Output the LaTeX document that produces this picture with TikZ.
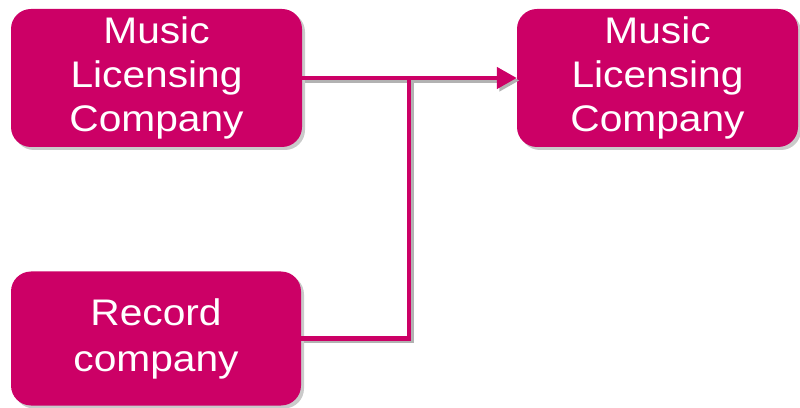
\documentclass[tikz,border=0pt]{standalone}
\usepackage{fontspec}
\setmainfont{Liberation Sans}[FakeStretch = 1.1]
\usepackage{tikz}
\usetikzlibrary{arrows.meta}
\usetikzlibrary{shadows}
\definecolor{licpink}{RGB}{204,0,102}
\begin{document}
\begin{tikzpicture}[x=1pt, y=1pt,
        company/.style = {fill = licpink, rounded corners = 20pt, text = white, align = center,
            font = \fontsize{37}{44}\selectfont, inner sep = 0pt,
            drop shadow = {shadow xshift = 3pt, shadow yshift = -3pt, opacity = 0.35, fill = black!60}},
        link/.style = {draw = licpink, line width = 4.5pt,
            preaction = {draw = black!30, line width = 4.5pt, transform canvas = {shift = {(2.5pt, -2.5pt)}}}}]
            \useasboundingbox (0, 0) rectangle (800, 407);
            \node [company, minimum width = 291pt, minimum height = 138pt] (mlcleft) at (156.5, 329) {Music\\Licensing\\Company};
            \node [company, minimum width = 281pt, minimum height = 138pt] (mlcright) at (657.5, 329) {Music\\Licensing\\Company};
            \node [company, minimum width = 290pt, minimum height = 134pt] (record) at (156, 68.5) {Record\\[2pt]company};
            \coordinate (join) at (409, 329);
            \draw [link, -{Triangle[length = 20pt, width = 21pt]}] (mlcleft.east) -- (mlcright.west);
            \draw [link] (record.east) -| (join);
        \end{tikzpicture}
\end{document}
